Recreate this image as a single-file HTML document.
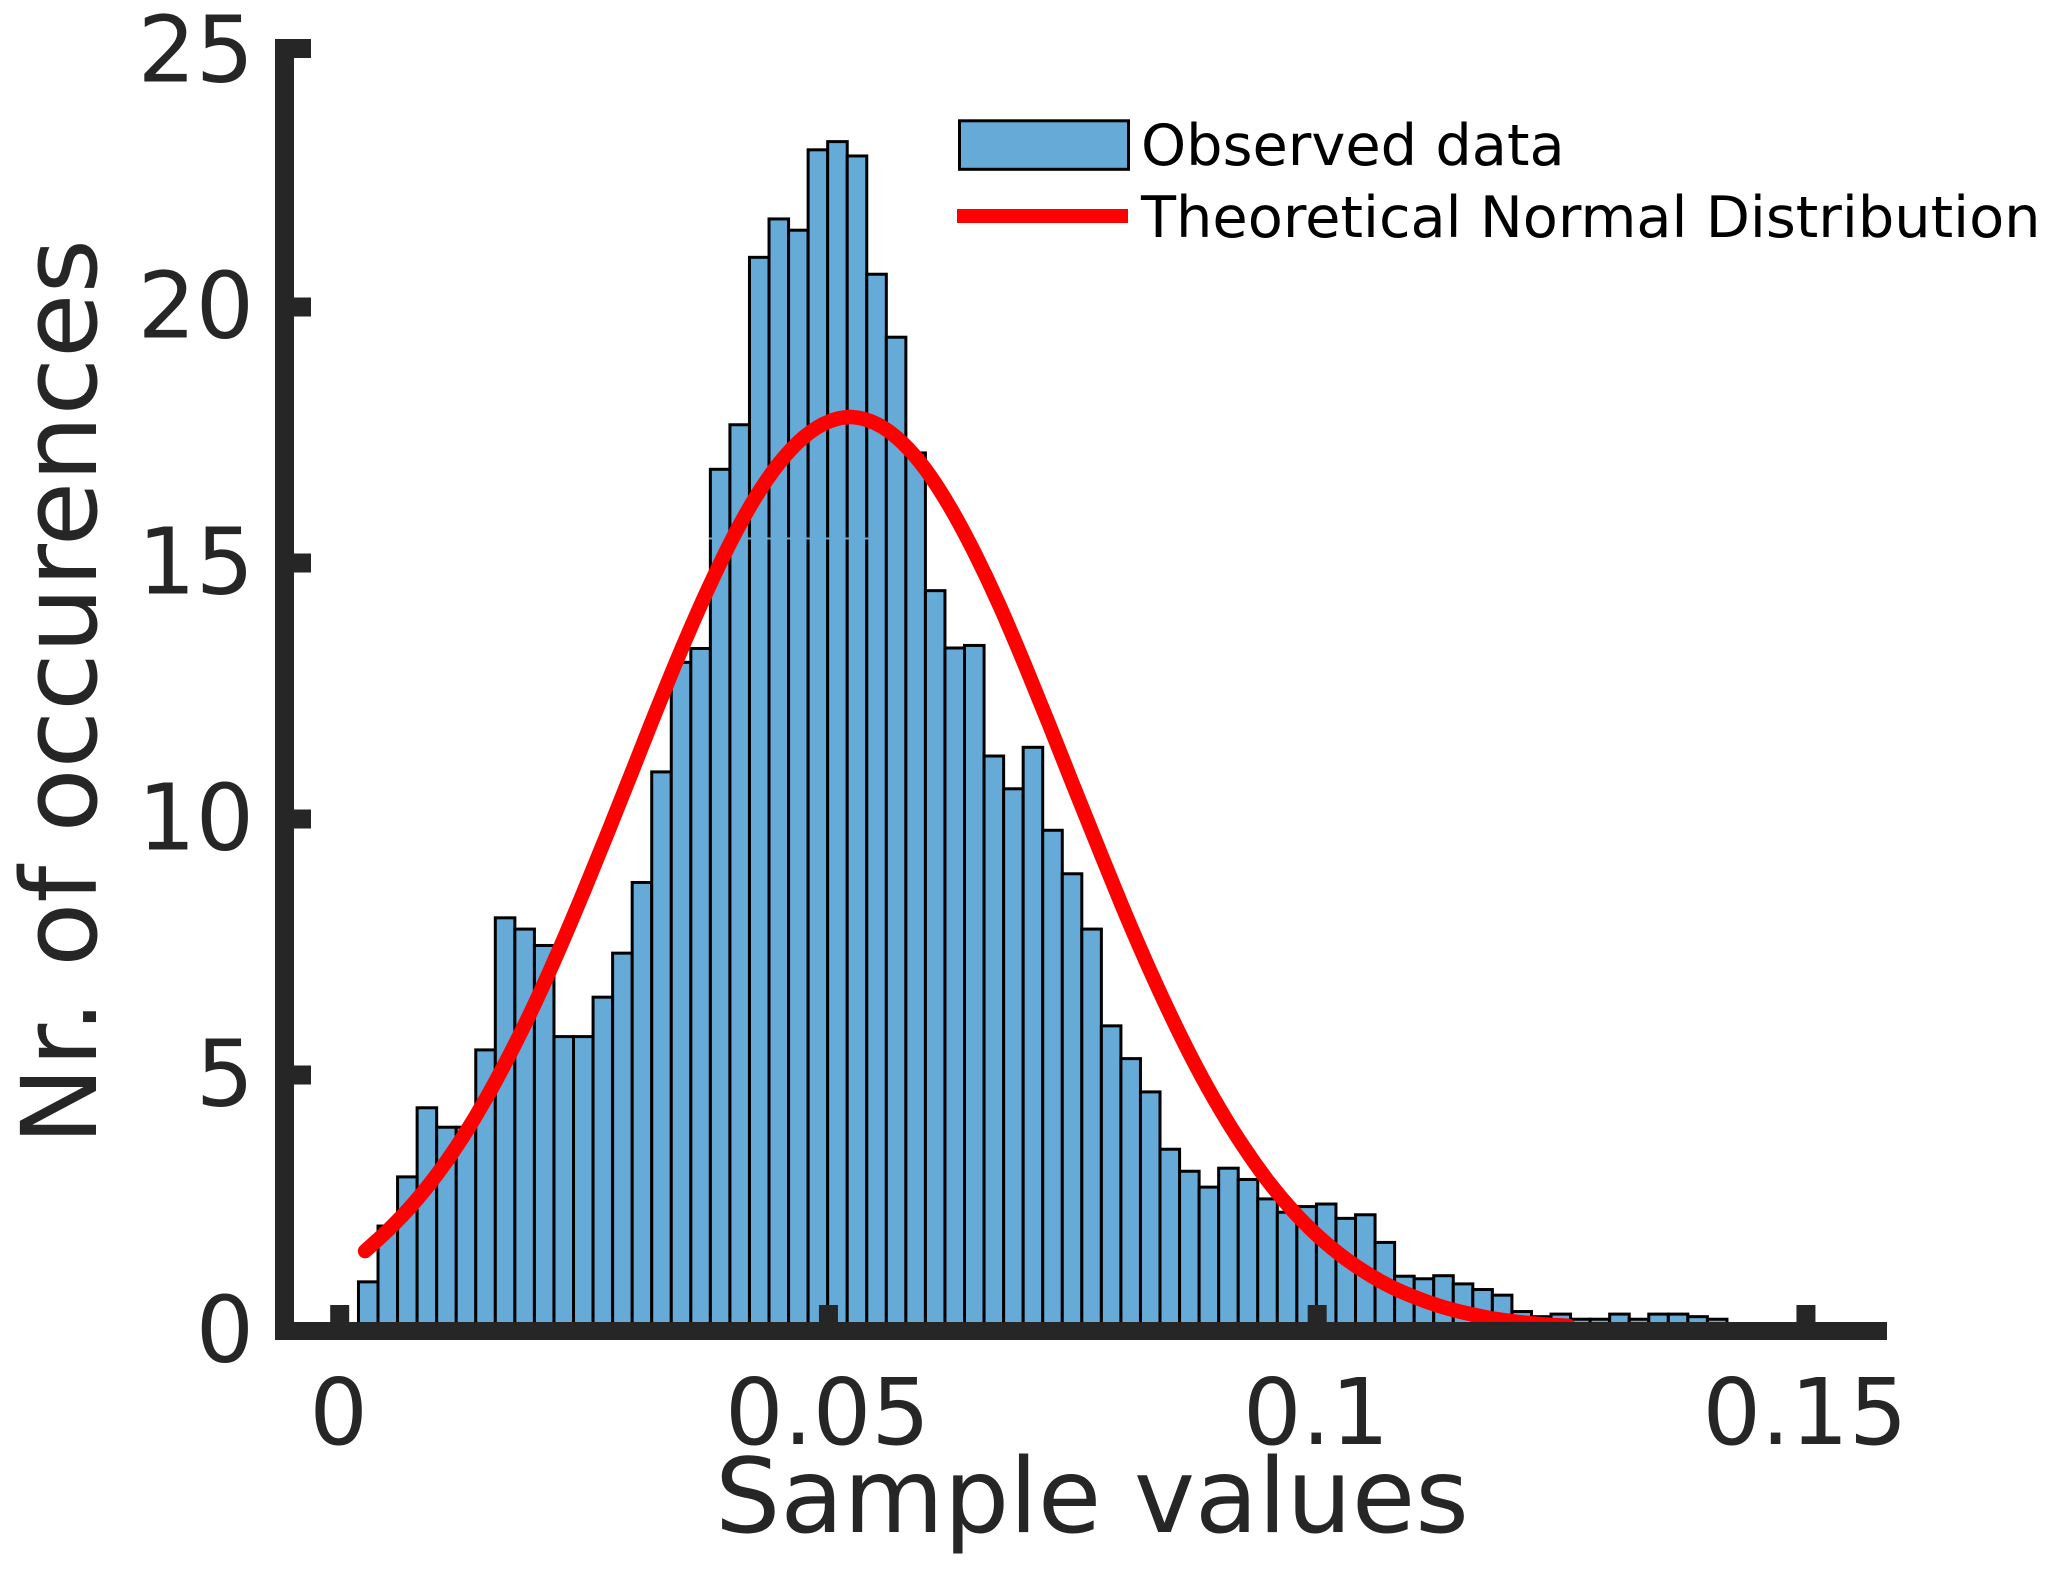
<!DOCTYPE html>
<html lang="en">
<head>
<meta charset="utf-8">
<title>Histogram of sample values</title>
<style>
html,body{margin:0;padding:0;background:#fff;}
svg{display:block;}
text{font-family:"DejaVu Sans",sans-serif;}
</style>
</head>
<body>
<svg id="chart" xmlns="http://www.w3.org/2000/svg" width="2050" height="1570" viewBox="0 0 2050 1570">
  <rect x="0" y="0" width="2050" height="1570" fill="#ffffff"/>
  <g id="bars"></g>
  <rect x="709" y="537.5" width="161" height="2" fill="#66aad8"/>
  <path id="curve" fill="none" stroke="#ff0000" stroke-width="14.5" stroke-linejoin="round" stroke-linecap="round"/>
  <g id="axes"></g>
  <text x="1092" y="1532" font-size="103" text-anchor="middle" fill="#262626">Sample values</text>
  <text transform="translate(96,692) rotate(-90)" x="0" y="0" font-size="104.7" text-anchor="middle" fill="#262626">Nr. of occurences</text>
  <g>
    <rect x="959.5" y="120.8" width="169" height="48.5" fill="#66aad8" stroke="#000000" stroke-width="3"/>
    <text x="1141" y="165" font-size="57.4" fill="#000000">Observed data</text>
    <rect x="957" y="209" width="171" height="14" fill="#ff0000"/>
    <text x="1141" y="237" font-size="57.4" fill="#000000">Theoretical Normal Distribution</text>
  </g>
</svg>
<script>
// Histogram values (bin heights, left to right)
const binStart = 0.00192;
const binWidth = 0.002;
const binHeights = [
  0.96, 2.05, 3.01, 4.36, 3.98, 3.98, 5.49, 8.07, 7.85, 7.53,
  5.75, 5.75, 6.52, 7.38, 8.76, 10.92, 13.06, 13.33, 16.83, 17.70,
  20.97, 21.72, 21.50, 23.07, 23.23, 22.95, 20.64, 19.41, 17.15, 14.46,
  13.34, 13.39, 11.23, 10.59, 11.40, 9.78, 8.93, 7.85, 5.96, 5.32,
  4.67, 3.55, 3.12, 2.81, 3.18, 2.96, 2.58, 2.32, 2.43, 2.48,
  2.20, 2.27, 1.73, 1.07, 1.02, 1.08, 0.92, 0.81, 0.70, 0.38,
  0.28, 0.33, 0.23, 0.23, 0.33, 0.23, 0.33, 0.33, 0.28, 0.23
];
// Theoretical curve samples
const curveX = [
  0.0026, 0.005, 0.0075, 0.01, 0.0125, 0.015, 0.0175, 0.02, 0.0225, 0.025,
  0.0275, 0.03, 0.0325, 0.035, 0.0375, 0.04, 0.0425, 0.045, 0.0475, 0.05,
  0.0525, 0.055, 0.0575, 0.06, 0.0625, 0.065, 0.0675, 0.07, 0.0725, 0.075,
  0.0775, 0.08, 0.0825, 0.085, 0.0875, 0.09, 0.0925, 0.095, 0.0975, 0.1,
  0.1025, 0.105, 0.1075, 0.11, 0.1125, 0.115, 0.1175, 0.12, 0.1225, 0.1257
];
const curveY = [
  1.56, 1.98, 2.48, 3.07, 3.76, 4.55, 5.44, 6.41, 7.47, 8.60,
  9.77, 10.97, 12.17, 13.33, 14.42, 15.41, 16.27, 16.96, 17.46, 17.76,
  17.85, 17.71, 17.36, 16.81, 16.07, 15.18, 14.17, 13.05, 11.88, 10.68,
  9.49, 8.32, 7.21, 6.17, 5.21, 4.35, 3.59, 2.92, 2.35, 1.87,
  1.47, 1.14, 0.87, 0.66, 0.49, 0.36, 0.26, 0.19, 0.14, 0.10
];
const xTickValues = [0, 0.05, 0.1, 0.15];
const xTickLabels = ["0", "0.05", "0.1", "0.15"];
const yTickValues = [0, 5, 10, 15, 20, 25];
const yTickLabels = ["0", "5", "10", "15", "20", "25"];

const SVG_NS = "http://www.w3.org/2000/svg";
function sx(v) { return 339.7 + v * 9775; }
function sy(v) { return 1331 - v * 51.2; }
function make(tag, attrs, parent) {
  const el = document.createElementNS(SVG_NS, tag);
  for (const k in attrs) el.setAttribute(k, attrs[k]);
  parent.appendChild(el);
  return el;
}

const barsGroup = document.getElementById("bars");
binHeights.forEach(function (h, i) {
  const x0 = sx(binStart + i * binWidth);
  const x1 = sx(binStart + (i + 1) * binWidth);
  const bar = make("rect", {
    x: x0, y: sy(h), width: x1 - x0, height: sy(0) - sy(h),
    fill: "#66aad8", stroke: "#000000", "stroke-width": 3
  }, barsGroup);
  
  
});

// Smooth curve through the samples (Catmull-Rom converted to cubic Beziers)
const curvePts = curveX.map(function (x, i) { return [sx(x), sy(curveY[i])]; });
let curveD = "M" + curvePts[0][0].toFixed(1) + "," + curvePts[0][1].toFixed(1);
for (let i = 0; i < curvePts.length - 1; i++) {
  const p0 = curvePts[Math.max(0, i - 1)];
  const p1 = curvePts[i];
  const p2 = curvePts[i + 1];
  const p3 = curvePts[Math.min(curvePts.length - 1, i + 2)];
  const c1x = p1[0] + (p2[0] - p0[0]) / 6;
  const c1y = p1[1] + (p2[1] - p0[1]) / 6;
  const c2x = p2[0] - (p3[0] - p1[0]) / 6;
  const c2y = p2[1] - (p3[1] - p1[1]) / 6;
  curveD += " C" + c1x.toFixed(1) + "," + c1y.toFixed(1) + " " + c2x.toFixed(1) + "," + c2y.toFixed(1) + " " + p2[0].toFixed(1) + "," + p2[1].toFixed(1);
}
document.getElementById("curve").setAttribute("d", curveD);

const axesGroup = document.getElementById("axes");
const AXIS_COLOR = "#262626";
const axisTop = 39;
const axisBottom = 1340;

const yLine = make("rect", { x: 275, y: axisTop, width: 19, height: axisBottom - axisTop, fill: AXIS_COLOR }, axesGroup);



const xLine = make("rect", { x: 275, y: 1322, width: 1612, height: 18, fill: AXIS_COLOR }, axesGroup);



xTickValues.forEach(function (v, i) {
  const tick = make("rect", { x: sx(v) - 9.5, y: 1305, width: 19, height: 17, fill: AXIS_COLOR }, axesGroup);
  
  
  const label = make("text", { x: sx(v) - 1, y: 1444, "font-size": 92, "text-anchor": "middle", fill: AXIS_COLOR }, axesGroup);
  label.textContent = xTickLabels[i];
  
  
});

yTickValues.forEach(function (v, i) {
  const top = Math.max(axisTop, sy(v) - 9.5 - (i === yTickValues.length - 1 ? 2.5 : 0));
  const tickTop = Math.min(1322, top);
  const tickHeight = Math.min(19, axisBottom - tickTop);
  const tick = make("rect", { x: 294, y: v === 0 ? 1322 : tickTop, width: 17, height: v === 0 ? 18 : tickHeight, fill: AXIS_COLOR }, axesGroup);
  
  
  const label = make("text", { x: 254, y: sy(v) + 30.5, "font-size": 91.5, "text-anchor": "end", fill: AXIS_COLOR }, axesGroup);
  label.textContent = yTickLabels[i];
  
  
});
</script>
</body>
</html>
